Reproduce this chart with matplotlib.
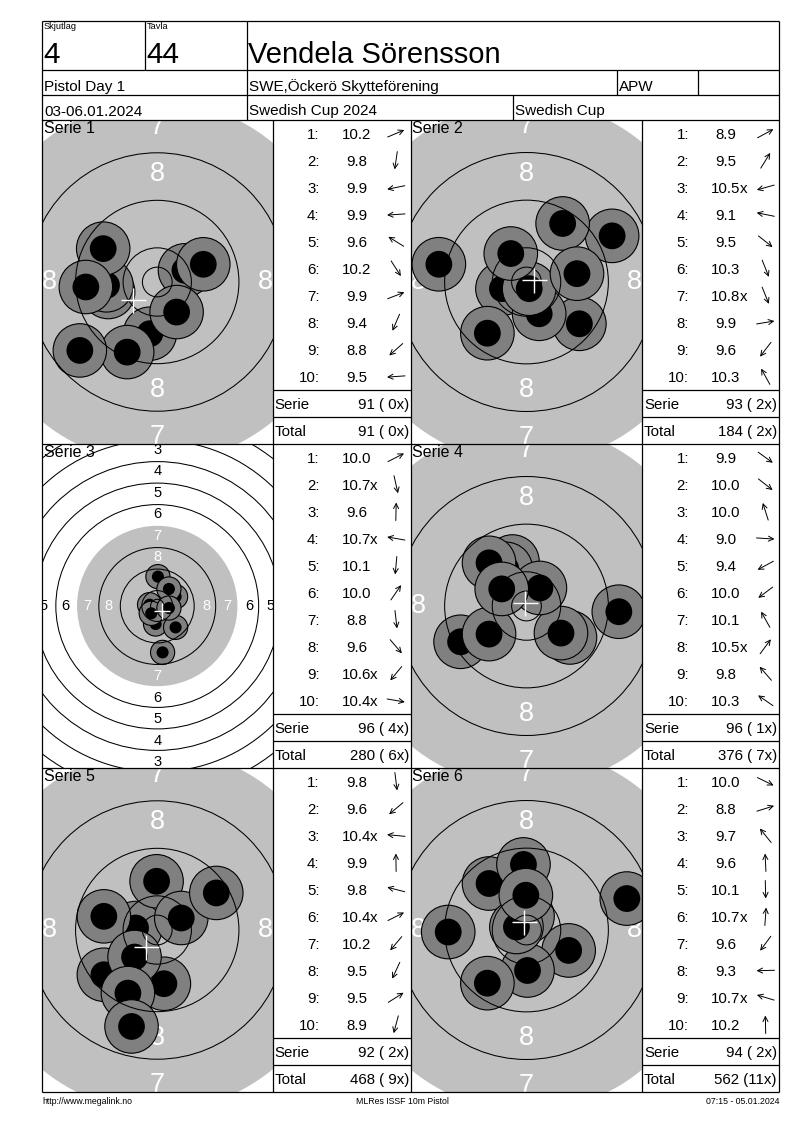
import numpy as np
import matplotlib
matplotlib.use("Agg")
import matplotlib.pyplot as plt
from matplotlib.patches import Circle

plt.rcParams['font.family'] = ['Liberation Sans', 'DejaVu Sans']

# ---- header data ----
relay = "4"
lane = "44"
shooter = "Vendela Sörensson"
match_name = "Pistol Day 1"
club = "SWE,Öckerö Skytteförening"
shooter_class = "APW"
dates = "03-06.01.2024"
event = "Swedish Cup 2024"
event_short = "Swedish Cup"
footer_left = "http://www.megalink.no"
footer_mid = "MLRes ISSF 10m Pistol"
footer_right = "07:15 - 05.01.2024"

# ---- shot scores (x = inner ten) ----
s1_scores = ["10.2", "9.8", "9.9", "9.9", "9.6", "10.2", "9.9", "9.4", "8.8", "9.5"]
s2_scores = ["8.9", "9.5", "10.5x", "9.1", "9.5", "10.3", "10.8x", "9.9", "9.6", "10.3"]
s3_scores = ["10.0", "10.7x", "9.6", "10.7x", "10.1", "10.0", "8.8", "9.6", "10.6x", "10.4x"]
s4_scores = ["9.9", "10.0", "10.0", "9.0", "9.4", "10.0", "10.1", "10.5x", "9.8", "10.3"]
s5_scores = ["9.8", "9.6", "10.4x", "9.9", "9.8", "10.4x", "10.2", "9.5", "9.5", "8.9"]
s6_scores = ["10.0", "8.8", "9.7", "9.6", "10.1", "10.7x", "9.6", "9.3", "10.7x", "10.2"]

# ---- shot positions on target, mm from centre ----
s1_x = [4.66, -1.24, -8.26, -8.54, -9.10, 3.26, 7.75, -5.06, -13.03, -12.02]
s1_y = [1.97, -8.70, -1.69, -0.56, 5.62, -5.06, 2.98, -11.80, -11.52, -0.84]
s2_x = [14.38, 6.07, -4.04, -14.72, 8.88, 2.13, 0.45, 8.48, -6.57, -2.64]
s2_y = [7.75, 9.83, -1.12, 2.98, -7.02, -5.34, -1.12, 1.40, -8.60, 4.78]
s3_x = [6.83, 0.62, 0.25, -2.86, -0.62, 4.35, 1.99, 6.83, -2.24, 4.35]
s3_y = [3.48, -2.73, 10.93, 0.50, -6.71, 6.34, -17.27, -7.95, -2.73, -0.75]
s4_x = [7.30, 5.79, -2.36, 15.51, -11.07, -6.29, -3.48, 2.25, -6.29, -4.16]
s4_y = [-5.28, -4.55, 7.47, -0.96, -6.01, -4.72, 6.24, 3.03, 7.25, 2.87]
s5_x = [1.12, -8.99, -3.65, -0.11, -8.99, 4.04, -3.82, -4.94, 9.94, -4.33]
s5_y = [-9.04, -7.53, 0.34, 8.20, 2.30, 2.02, -4.55, -10.62, 6.24, -16.24]
s6_x = [7.08, 16.85, -6.29, -0.51, 0.17, 0.17, -6.57, -13.15, -1.69, -0.11]
s6_y = [-3.43, 5.28, 7.81, 11.01, -6.80, 2.30, -8.93, -0.34, 0.51, 5.84]

series_scores = [s1_scores, s2_scores, s3_scores, s4_scores, s5_scores, s6_scores]
series_x = [s1_x, s2_x, s3_x, s4_x, s5_x, s6_x]
series_y = [s1_y, s2_y, s3_y, s4_y, s5_y, s6_y]
view_half_width = [19.4, 19.4, 42.9, 19.4, 19.4, 19.4]   # mm shown either side

# ISSF 10m pistol target, ring radii in mm (ring 1 .. ring 10) and inner ten
ring_radius = [77.75, 69.75, 61.75, 53.75, 45.75, 37.75, 29.75, 21.75, 13.75, 5.75]
inner_ten = 2.5
pellet_r = 2.25

W, H = 800, 1130
fig = plt.figure(figsize=(8, 11.3), dpi=100)
fig.patch.set_facecolor('white')

row_tops = [120, 444, 768]
row_h = 324
tgt_cols = [(42, 272.5), (411, 642)]
tbl_cols = [(272.5, 411), (642, 779)]


def fig_rect(x0, y0, w, h):
    return [x0 / W, 1 - (y0 + h) / H, w / W, h / H]


def draw_target(ax, xs, ys, half_w, w_px, h_px, big):
    half_h = half_w * h_px / w_px
    ax.set_xlim(-half_w, half_w)
    ax.set_ylim(-half_h, half_h)
    ax.axis('off')
    # aiming black (rings 7-10), drawn grey
    ax.add_patch(Circle((0, 0), ring_radius[6] + (0.7 if big else 0.1),
                        fc='#c0c0c0', ec='none', zorder=0))
    # shots, later ones on top
    for i, (x, y) in enumerate(zip(xs, ys)):
        ax.add_patch(Circle((x, y), 2 * pellet_r, fc='#808080', ec='black', lw=0.8,
                            zorder=2 + i * 0.01))
        ax.add_patch(Circle((x, y), pellet_r, fc='black', ec='none', zorder=2.005 + i * 0.01))
    # ring lines (none on the edge of the black)
    for n, r in enumerate(ring_radius):
        if n == 6:
            continue
        ax.add_patch(Circle((0, 0), r, fill=False, ec='black', lw=0.75, zorder=3))
    ax.add_patch(Circle((0, 0), inner_ten, fill=False, ec='black', lw=0.75, zorder=3))
    # ring numbers
    fs = 19.5 if big else 10.5
    for n in range(1, 9):
        r = ring_radius[n - 1] - 3.6
        col = 'white' if n >= 7 else 'black'
        for (px, py) in [(0, r), (0, -r), (r, 0), (-r, 0)]:
            ax.text(px, py, str(n), color=col, fontsize=fs, ha='center', va='center',
                    clip_on=True, zorder=1)
    # mean point of impact
    ax.plot([np.mean(xs)], [np.mean(ys)], marker='+', color='white',
            markersize=18 if big else 12, mew=1.0, zorder=4)


# target panels
for k in range(6):
    row, col = k // 2, k % 2
    x0, x1 = tgt_cols[col]
    ax = fig.add_axes(fig_rect(x0, row_tops[row], x1 - x0, row_h))
    draw_target(ax, series_x[k], series_y[k], view_half_width[k], x1 - x0, row_h,
                view_half_width[k] < 30)

# overlay in pixel coordinates
ov = fig.add_axes([0, 0, 1, 1], facecolor='none')
ov.set_xlim(0, W)
ov.set_ylim(H, 0)
ov.axis('off')
lw = 0.9


def hline(y, xa, xb):
    ov.plot([xa, xb], [y, y], color='black', lw=lw, solid_capstyle='butt')


def vline(x, ya, yb):
    ov.plot([x, x], [ya, yb], color='black', lw=lw, solid_capstyle='butt')


# header grid
bottom = row_tops[-1] + row_h
hline(21, 42, 779)
hline(70, 42, 779)
hline(95, 42, 779)
hline(120, 42, 779)
vline(42, 21, bottom)
vline(779, 21, bottom)
vline(144.5, 21, 70)
vline(246.7, 21, 120)
vline(616.7, 70, 95)
vline(697.7, 70, 95)
vline(513.3, 95, 120)

ov.text(44, 22, "Skjutlag", fontsize=6.7, va='top', ha='left')
ov.text(147, 22, "Tavla", fontsize=6.7, va='top', ha='left')
ov.text(43.5, 63.3, relay, fontsize=21.5, va='baseline', ha='left')
ov.text(146.5, 63.3, lane, fontsize=21.5, va='baseline', ha='left')
ov.text(248.5, 63.3, shooter, fontsize=21, va='baseline', ha='left')
ov.text(44, 91, match_name, fontsize=11, va='baseline', ha='left')
ov.text(249, 91, club, fontsize=11, va='baseline', ha='left')
ov.text(618.5, 91, shooter_class, fontsize=11, va='baseline', ha='left')
ov.text(44, 115.5, dates, fontsize=11, va='baseline', ha='left')
ov.text(249, 115.5, event, fontsize=11, va='baseline', ha='left')
ov.text(515, 115.5, event_short, fontsize=11, va='baseline', ha='left')

# panel grid
for t in row_tops[1:]:
    hline(t, 42, 779)
hline(bottom, 42, 779)
for x in [272.5, 411, 642]:
    vline(x, 120, bottom)

total = 0
total_x = 0
for k in range(6):
    row, col = k // 2, k % 2
    top = row_tops[row]
    tl, tr = tbl_cols[col]
    # serie label on target
    ov.text(tgt_cols[col][0] + 1.5, top + 1, f"Serie {k + 1}", fontsize=11.5,
            va='top', ha='left')
    scores = series_scores[k]
    for i, s in enumerate(scores):
        yc = top + 27 * (i + 0.5)
        ov.text(tl + 47, yc + 5.3, f"{i + 1}:", fontsize=10.8, ha='right', va='baseline')
        num = s.rstrip('x')
        ov.text(tl + 84, yc + 5.3, num, fontsize=10.8, ha='center', va='baseline')
        if s.endswith('x'):
            ov.text(tl + 97.5, yc + 5.3, "x", fontsize=10.8, ha='left', va='baseline')
        # direction arrow towards the shot
        sx, sy = series_x[k][i], series_y[k][i]
        d = np.hypot(sx, sy)
        ux, uy = sx / d, -sy / d
        cx = tl + 123.5
        L = 18
        ov.annotate('', xy=(cx + ux * L / 2, yc + uy * L / 2),
                    xytext=(cx - ux * L / 2, yc - uy * L / 2),
                    arrowprops=dict(arrowstyle='->', lw=0.7, color='black',
                                    shrinkA=0, shrinkB=0, mutation_scale=9))
    serie = sum(int(float(s.rstrip('x'))) for s in scores)
    nx = sum(1 for s in scores if s.endswith('x'))
    total += serie
    total_x += nx
    hline(top + 270, tl, tr)
    hline(top + 297, tl, tr)
    ov.text(tl + 2, top + 283.5 + 5.3, "Serie", fontsize=10.8, ha='left', va='baseline')
    ov.text(tr - 2, top + 283.5 + 5.3, f"{serie} ({nx:2d}x)", fontsize=10.8,
            ha='right', va='baseline')
    ov.text(tl + 2, top + 310.5 + 5.3, "Total", fontsize=10.8, ha='left', va='baseline')
    ov.text(tr - 2, top + 310.5 + 5.3, f"{total} ({total_x:2d}x)", fontsize=10.8,
            ha='right', va='baseline')

# footer
ov.text(42, 1102, footer_left, fontsize=6.3, ha='left', va='center')
ov.text(402, 1102, footer_mid, fontsize=6.3, ha='center', va='center')
ov.text(779, 1102, footer_right, fontsize=6.3, ha='right', va='center')

fig.savefig("out.png", dpi=100)
